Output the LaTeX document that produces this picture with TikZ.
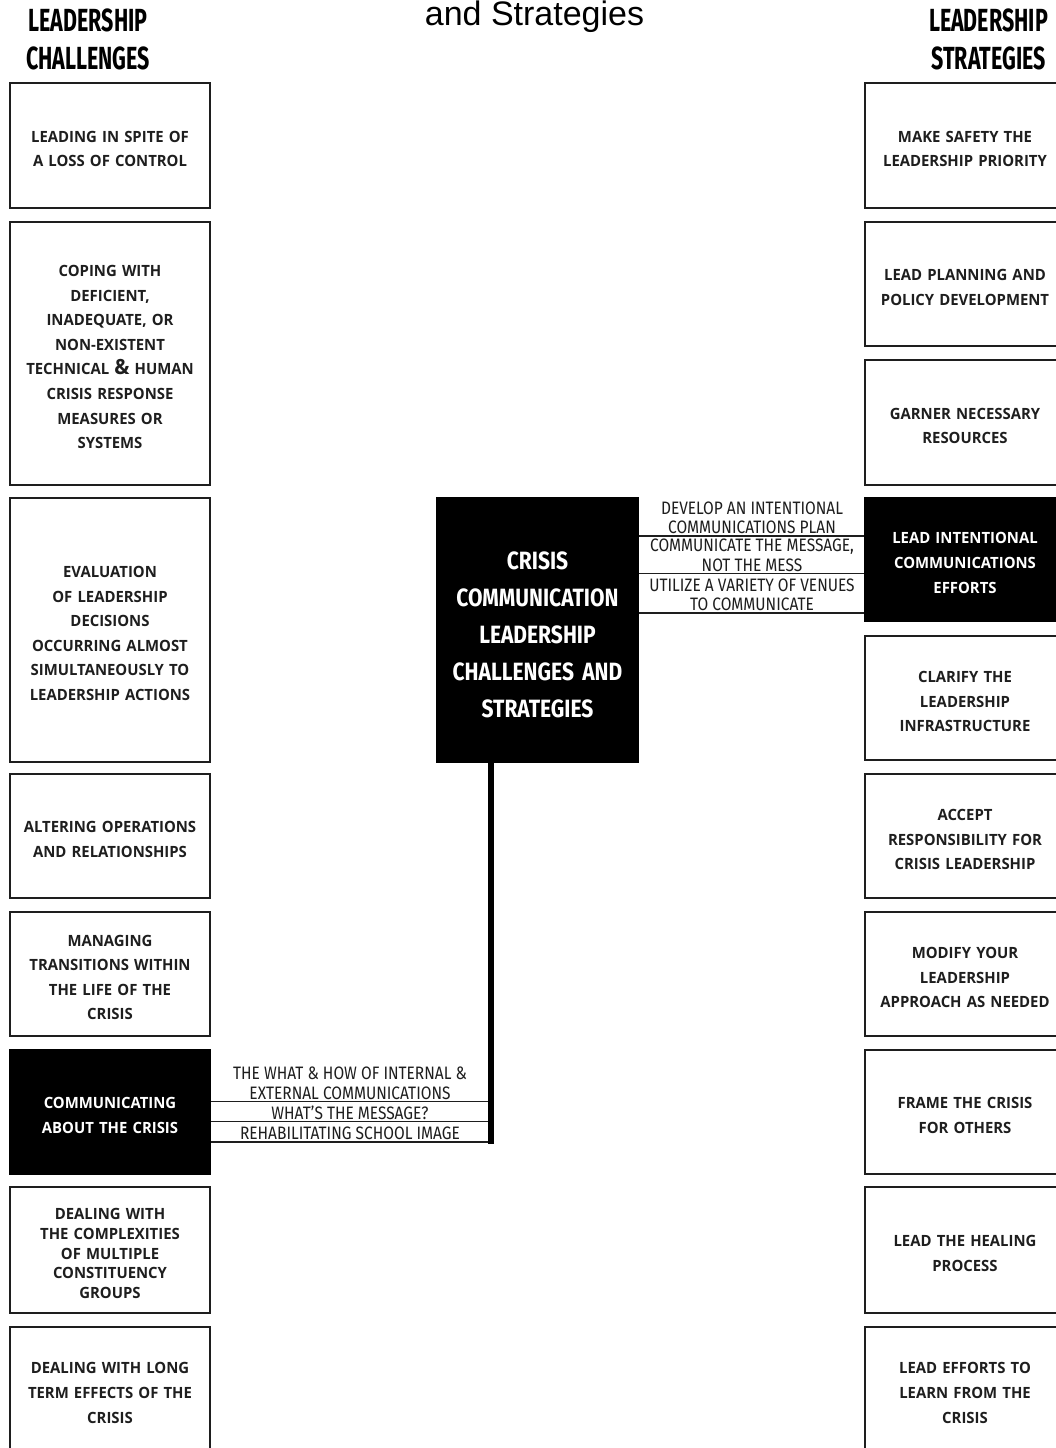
\documentclass[tikz,border=0pt]{standalone}
\usepackage{fontspec}
\setmainfont{Liberation Sans}
\newfontfamily\boxfont[FakeStretch=0.96]{Open Sans}
\newfontfamily\headfont[FakeStretch=0.67]{Fira Sans}
\newfontfamily\centfont[FakeStretch=0.84]{Fira Sans}
\newfontfamily\labfont[FakeStretch=0.86]{Fira Sans}
\definecolor{ink}{HTML}{1E1E1E}
\begin{document}
\begin{tikzpicture}[x=1pt,y=-1pt,
  wbox/.style={draw=ink, line width=2pt, fill=white, minimum width=200pt, text width=198pt,
    align=center, inner sep=0pt, text=ink,
    font=\boxfont\bfseries\fontsize{15.5}{24.6}\selectfont,
    execute at end node={\vspace{-7pt}}},
  bbox/.style={wbox, fill=black, draw=black, text=white},
  head/.style={font=\headfont\bfseries\fontsize{32}{37.5}\selectfont, align=center, text=black, inner sep=0pt},
  lab/.style={font=\labfont\fontsize{18}{19.5}\selectfont, align=center, text=ink, inner sep=0pt, anchor=south},
  conn/.style={draw=ink, line width=1.3pt}
]
\useasboundingbox (0,0) rectangle (1055,1448);
\fill[white] (0,0) rectangle (1055,1448);

% title fragment
\node[font=\fontsize{34}{40}\selectfont, anchor=base, inner sep=0pt] (title) at (534.5,25) {and Strategies};

% headers
\node[head, anchor=north] (hl) at (88,9) {LEADERSHIP\\CHALLENGES};
\node[head, anchor=north] (hr) at (988.5,9) {LEADERSHIP\\STRATEGIES};

% left column
\node[wbox, minimum height=125pt] (l1) at (110,145.5) {LEADING IN SPITE OF\\A LOSS OF CONTROL};
\node[wbox, minimum height=263pt] (l2) at (110,353.5) {COPING WITH\\DEFICIENT,\\INADEQUATE, OR\\NON-EXISTENT\\TECHNICAL {\fontsize{21}{24.6}\selectfont\&} HUMAN\\CRISIS RESPONSE\\MEASURES OR\\SYSTEMS};
\node[wbox, minimum height=264pt] (l3) at (110,630) {EVALUATION\\OF LEADERSHIP\\DECISIONS\\OCCURRING ALMOST\\SIMULTANEOUSLY TO\\LEADERSHIP ACTIONS};
\node[wbox, minimum height=124pt] (l4) at (110,836) {ALTERING OPERATIONS\\AND RELATIONSHIPS};
\node[wbox, minimum height=124pt] (l5) at (110,974) {MANAGING\\TRANSITIONS WITHIN\\THE LIFE OF THE\\CRISIS};
\node[bbox, minimum height=124pt] (l6) at (110,1112) {COMMUNICATING\\ABOUT THE CRISIS};
\node[wbox, minimum height=126pt, font=\boxfont\bfseries\fontsize{15.5}{19.8}\selectfont] (l7) at (110,1250) {DEALING WITH\\THE COMPLEXITIES\\OF MULTIPLE\\CONSTITUENCY\\GROUPS};
\node[wbox, minimum height=125pt] (l8) at (110,1389.5) {DEALING WITH LONG\\TERM EFFECTS OF THE\\CRISIS};

% right column
\node[wbox, minimum height=125pt] (r1) at (965,145.5) {MAKE SAFETY THE\\LEADERSHIP PRIORITY};
\node[wbox, minimum height=124pt] (r2) at (965,284) {LEAD PLANNING AND\\POLICY DEVELOPMENT};
\node[wbox, minimum height=125pt] (r3) at (965,422.5) {GARNER NECESSARY\\RESOURCES};
\node[bbox, minimum height=123pt] (r4) at (965,559.5) {LEAD INTENTIONAL\\COMMUNICATIONS\\EFFORTS};
\node[wbox, minimum height=124pt] (r5) at (965,698) {CLARIFY THE\\LEADERSHIP\\INFRASTRUCTURE};
\node[wbox, minimum height=124pt] (r6) at (965,836) {ACCEPT\\RESPONSIBILITY FOR\\CRISIS LEADERSHIP};
\node[wbox, minimum height=124pt] (r7) at (965,974) {MODIFY YOUR\\LEADERSHIP\\APPROACH AS NEEDED};
\node[wbox, minimum height=124pt] (r8) at (965,1112) {FRAME THE CRISIS\\FOR OTHERS};
\node[wbox, minimum height=126pt] (r9) at (965,1250) {LEAD THE HEALING\\PROCESS};
\node[wbox, minimum height=125pt] (r10) at (965,1389.5) {LEAD EFFORTS TO\\LEARN FROM THE\\CRISIS};

% centre
\node[bbox, minimum width=201pt, minimum height=264pt, text width=198pt,
  font=\centfont\bfseries\fontsize{25}{37}\selectfont,
  execute at end node={\vspace{-3pt}}] (c) at (537.5,630)
  {CRISIS\\COMMUNICATION\\LEADERSHIP\\CHALLENGES AND\\STRATEGIES};

% top connectors
\coordinate (t1) at (700,536);
\coordinate (t2) at (700,573.5);
\coordinate (t3) at (700,613);
\draw[conn] (c.east |- t1) -- (r4.west |- t1);
\draw[conn] (c.east |- t2) -- (r4.west |- t2);
\draw[conn] (c.east |- t3) -- (r4.west |- t3);
\node[lab] (a1) at ([yshift=1.8pt]752,536) {DEVELOP AN INTENTIONAL\\COMMUNICATIONS PLAN};
\node[lab] (a2) at ([yshift=1.8pt]752,573.5) {COMMUNICATE THE MESSAGE,\\NOT THE MESS};
\node[lab] (a3) at ([yshift=1.8pt]752,613) {UTILIZE A VARIETY OF VENUES\\TO COMMUNICATE};

% vertical trunk
\coordinate (jn) at (490.5,1143.5);
\draw[line width=6pt, draw=black] (c.south -| jn) -- (jn);

% bottom connectors
\coordinate (b1) at (487.5,1101.5);
\coordinate (b2) at (487.5,1121.5);
\coordinate (b3) at (487.5,1142);
\draw[conn] (l6.east |- b1) -- (b1);
\draw[conn] (l6.east |- b2) -- (b2);
\draw[conn] (l6.east |- b3) -- (b3);
\node[lab] (d1) at ([yshift=1.8pt]350,1101.5) {THE WHAT \& HOW OF INTERNAL \&\\EXTERNAL COMMUNICATIONS};
\node[lab] (d2) at ([yshift=1.8pt]350,1121.5) {WHAT’S THE MESSAGE?};
\node[lab] (d3) at ([yshift=1.8pt]350,1142) {REHABILITATING SCHOOL IMAGE};
\end{tikzpicture}
\end{document}
